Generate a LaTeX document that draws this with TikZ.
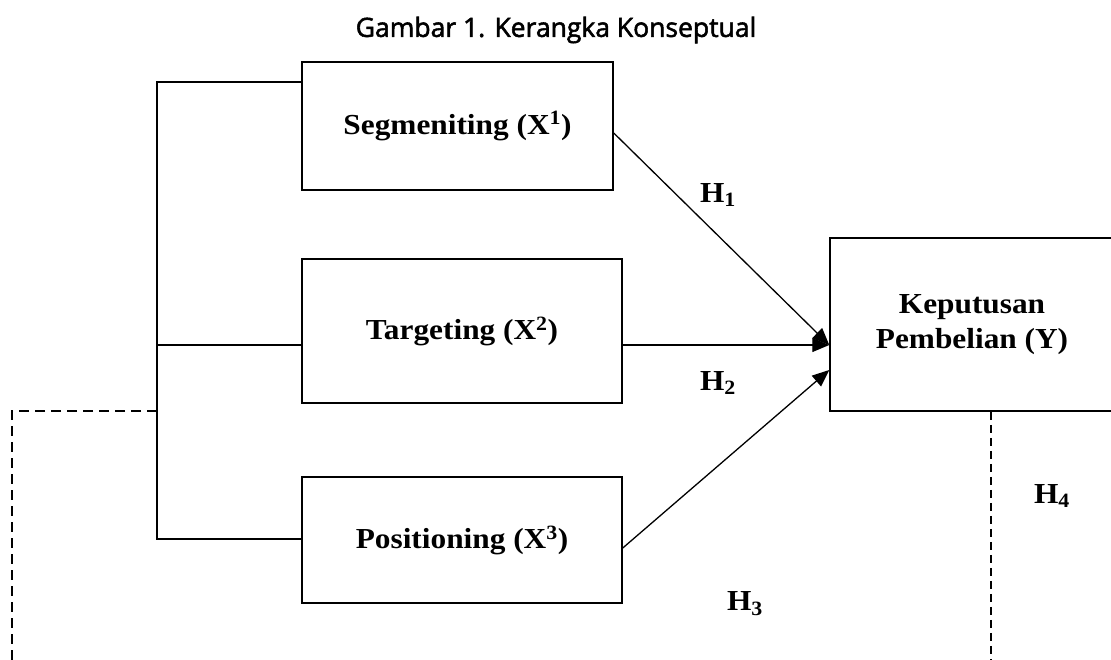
\documentclass[tikz,border=0pt]{standalone}
\usepackage{fontspec}
\setmainfont{Liberation Serif}[FakeStretch=1.08]
\newfontfamily\titlefont{Open Sans}[FakeBold=2]
\usetikzlibrary{arrows.meta,calc}
\begin{document}
\begin{tikzpicture}[x=1pt,y=-1pt,
  box/.style={draw,line width=1.5pt,inner sep=0pt,font=\fontsize{29}{35}\selectfont\bfseries,align=center},
  conn/.style={line width=1.5pt},
  arr/.style={line width=1.3pt,-{Triangle[length=17pt,width=14pt]}},
  hlab/.style={font=\fontsize{29}{35}\selectfont\bfseries},
  dash1/.style={line width=1.5pt,dash pattern=on 10pt off 6pt},
  dash2/.style={line width=1.2pt,dash pattern=on 8pt off 5pt}]
\useasboundingbox (0,0) rectangle (1111,659);
\node[font=\titlefont\fontsize{26.5}{30}\selectfont] (title) at (556,30) {Gambar 1. Kerangka Konseptual};
\node[box,minimum width=311pt,minimum height=128pt] (seg) at (457.5,126) {Segmeniting (X\textsuperscript{1})};
\node[box,minimum width=320pt,minimum height=144pt] (tar) at (462,331) {Targeting (X\textsuperscript{2})};
\node[box,minimum width=320pt,minimum height=126pt] (pos) at (462,540) {Positioning (X\textsuperscript{3})};
\node[box,minimum width=284pt,minimum height=173pt] (kep) at (972,324.5) {Keputusan\\Pembelian (Y)};
\coordinate (b1) at (157,82);
\coordinate (b2) at (157,345);
\coordinate (b3) at (157,539);
\coordinate (bd) at (157,411);
\coordinate (dl) at (12,411);
\coordinate (dlb) at (12,662);
\coordinate (drb) at (991,662);
\draw[conn] (seg.west |- b1) -- (b1) -- (b3) -- (pos.west |- b3);
\draw[conn] (b2) -- (tar.west |- b2);
\draw[dash1] (bd) -- (dl) -- (dlb);
\draw[dash2] (kep.south -| drb) -- (drb);
\draw[arr] ($(seg.east)+(0,7)$) -- ($(kep.west)+(0,20.5)$);
\draw[arr] (tar.east |- 0,345) -- ($(kep.west)+(0,20.5)$);
\draw[arr] ($(pos.east)+(0,8)$) -- ($(kep.west)+(0,45.5)$);
\node[hlab] (h1) at (718,195) {H\textsubscript{1}};
\node[hlab] (h2) at (718,383) {H\textsubscript{2}};
\node[hlab] (h3) at (745,604) {H\textsubscript{3}};
\node[hlab] (h4) at (1052,496) {H\textsubscript{4}};
\end{tikzpicture}
\end{document}
